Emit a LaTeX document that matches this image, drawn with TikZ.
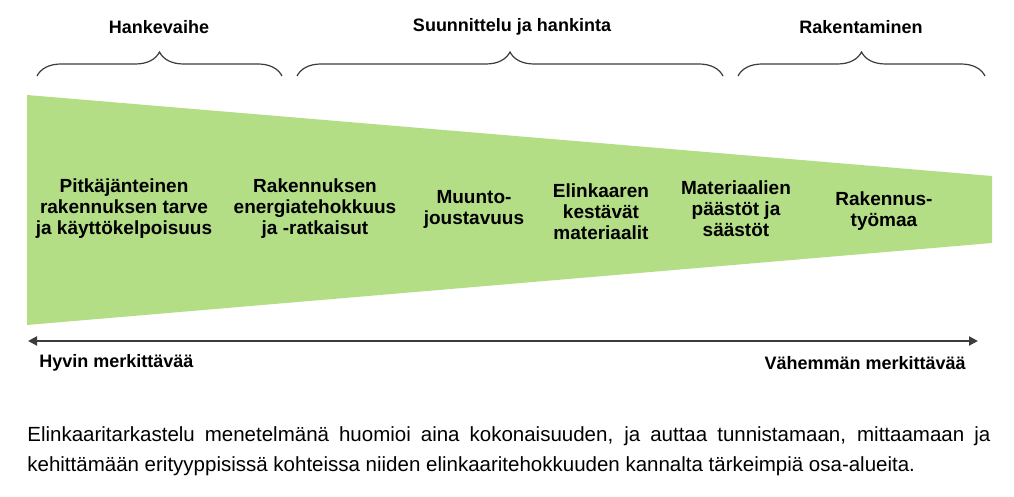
\documentclass[tikz,border=0pt]{standalone}
\usepackage{fontspec}
\setmainfont{Liberation Sans}
\usetikzlibrary{arrows.meta,decorations.pathreplacing}
\definecolor{wedgegreen}{RGB}{179,222,133}
\definecolor{linegray}{RGB}{60,60,60}
\begin{document}
\begin{tikzpicture}[x=0.5pt, y=-0.5pt,
  phasetitle/.style={font=\fontsize{9}{11}\selectfont\bfseries, inner sep=0pt},
  factor/.style={align=center, font=\fontsize{9.5}{10.5}\selectfont\bfseries, inner sep=0pt},
  phasebrace/.style={draw=linegray, line width=0.6pt, decorate, decoration={brace, amplitude=12pt}},
  scalearrow/.style={draw=linegray, line width=1pt, {Triangle[length=4.5pt, width=4.5pt]}-{Triangle[length=4.5pt, width=4.5pt]}},
  endlabel/.style={font=\fontsize{9}{11}\selectfont\bfseries, inner sep=0pt},
  para/.style={align=justify, text width=481.5pt, font=\fontsize{10.25}{15}\selectfont, inner sep=0pt}]
\useasboundingbox (0,0) rectangle (1014,497);

% Phases and their braces
\node[phasetitle] (hanke) at (159, 27) {Hankevaihe};
\node[phasetitle] (suunnittelu) at (512, 27) {Suunnittelu ja hankinta};
\node[phasetitle] (rakentaminen) at (861, 27) {Rakentaminen};
\draw[phasebrace] (37, 76) -- (282, 76);
\draw[phasebrace] (297, 76) -- (723, 76);
\draw[phasebrace] (738, 76) -- (985, 76);

% Narrowing green wedge
\fill[wedgegreen] (27, 95) -- (992, 176) -- (992, 243) -- (27, 325) -- cycle;

% Factors inside the wedge
\node[factor] (tarve) at (124, 209) {Pitkäjänteinen\\rakennuksen tarve\\ja käyttökelpoisuus};
\node[factor] (energia) at (315, 209) {Rakennuksen\\energiatehokkuus\\ja -ratkaisut};
\node[factor] (muunto) at (474, 209) {Muunto-\\joustavuus};
\node[factor] (kestavat) at (601, 212) {Elinkaaren\\kestävät\\materiaalit};
\node[factor] (paastot) at (736, 209) {Materiaalien\\päästöt ja\\säästöt};
\node[factor] (tyomaa) at (884, 211) {Rakennus-\\työmaa};

% Scale of significance
\coordinate (scaleleft) at (28, 341);
\coordinate (scaleright) at (978, 341);
\draw[scalearrow] (scaleleft) -- (scaleright);
\node[endlabel, anchor=west] (hyvin) at (39, 363) {Hyvin merkittävää};
\node[endlabel, anchor=east] (vahemman) at (966, 363) {Vähemmän merkittävää};

% Caption text
\node[para, anchor=north west] (caption) at (27, 426) {Elinkaaritarkastelu menetelmänä huomioi aina kokonaisuuden, ja auttaa tunnistamaan, mittaamaan ja\linebreak kehittämään erityyppisissä kohteissa niiden elinkaaritehokkuuden kannalta tärkeimpiä osa-alueita.};
\end{tikzpicture}
\end{document}
